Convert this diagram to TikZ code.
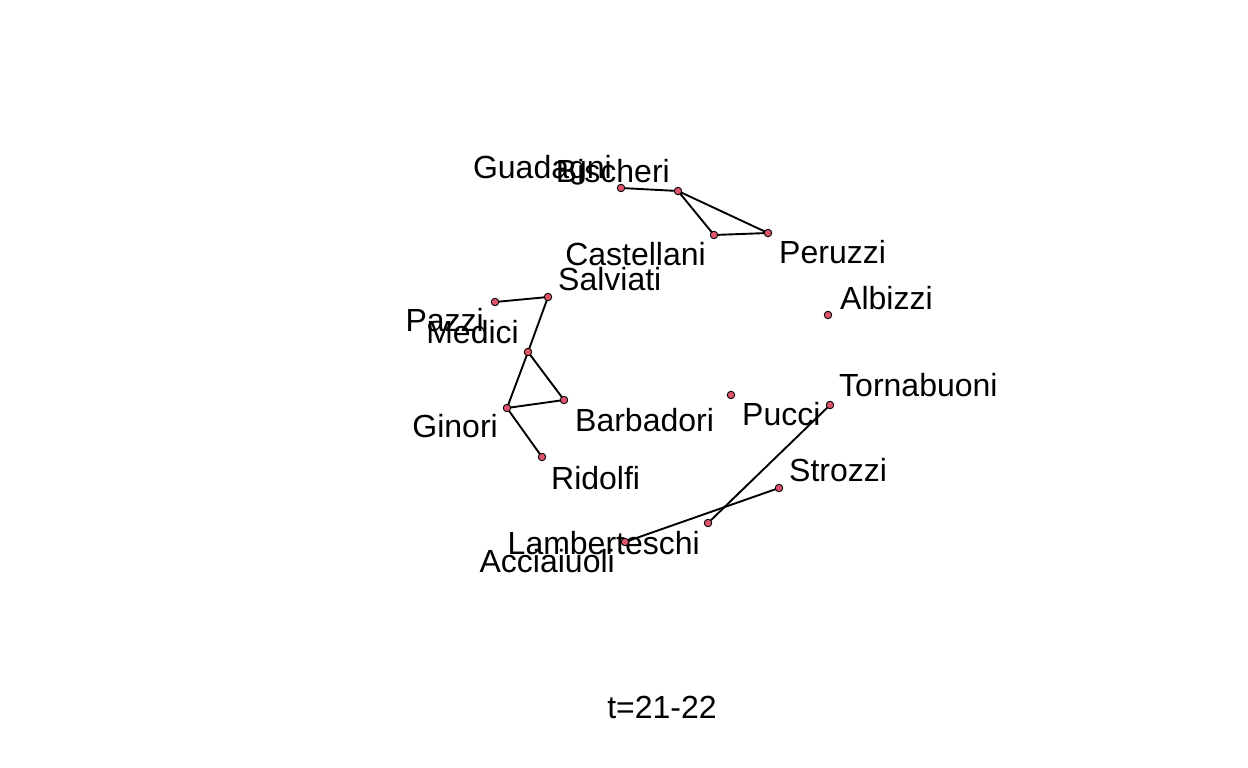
\documentclass[tikz,border=0pt]{standalone}
\usepackage{fontspec}
\setmainfont{Liberation Sans}
\begin{document}
\begin{tikzpicture}[x=1pt,y=-1pt,
  vert/.style={circle,draw=black,line width=0.9pt,fill=dotred,minimum size=7.5pt,inner sep=0pt},
  edge/.style={draw=black,line width=1.9pt},
  lab/.style={inner sep=0pt,font=\fontsize{32}{37}\selectfont}]
\definecolor{dotred}{HTML}{DF536B}
\useasboundingbox (0,0) rectangle (1248,768);
% vertex positions
\coordinate (Guadagni) at (621,188);
\coordinate (Bischeri) at (678,191);
\coordinate (Castellani) at (714,235);
\coordinate (Peruzzi) at (768,233);
\coordinate (Salviati) at (548,297);
\coordinate (Pazzi) at (495,302);
\coordinate (Medici) at (528,352);
\coordinate (Barbadori) at (564,400);
\coordinate (Ginori) at (507,408);
\coordinate (Ridolfi) at (542,457);
\coordinate (Pucci) at (731,395);
\coordinate (Albizzi) at (828,315);
\coordinate (Tornabuoni) at (830,405);
\coordinate (Strozzi) at (779,488);
\coordinate (Lamberteschi) at (708,523);
\coordinate (Acciaiuoli) at (625,542);
% labels
\node[lab,anchor=base east] (lGuadagni) at (612,178) {Guadagni};
\node[lab,anchor=base east] (lBischeri) at (670,182) {Bischeri};
\node[lab,anchor=base east] (lCastellani) at (706,265) {Castellani};
\node[lab,anchor=base west] (lPeruzzi) at (779,263) {Peruzzi};
\node[lab,anchor=base west] (lSalviati) at (558,290) {Salviati};
\node[lab,anchor=base east] (lPazzi) at (484,331) {Pazzi};
\node[lab,anchor=base east] (lMedici) at (519,343) {Medici};
\node[lab,anchor=base east] (lGinori) at (498,437) {Ginori};
\node[lab,anchor=base west] (lBarbadori) at (575,431) {Barbadori};
\node[lab,anchor=base west] (lRidolfi) at (551,489) {Ridolfi};
\node[lab,anchor=base west] (lPucci) at (742,425) {Pucci};
\node[lab,anchor=base west] (lTornabuoni) at (839,396) {Tornabuoni};
\node[lab,anchor=base west] (lAlbizzi) at (840,309) {Albizzi};
\node[lab,anchor=base west] (lStrozzi) at (789,481) {Strozzi};
\node[lab,anchor=base east] (lLamberteschi) at (700,554) {Lamberteschi};
\node[lab,anchor=base east] (lAcciaiuoli) at (615,572) {Acciaiuoli};
\node[lab,anchor=base] (title) at (662,718) {t=21-22};
% edges
\draw[edge] (Guadagni) -- (Bischeri);
\draw[edge] (Bischeri) -- (Peruzzi);
\draw[edge] (Bischeri) -- (Castellani);
\draw[edge] (Castellani) -- (Peruzzi);
\draw[edge] (Pazzi) -- (Salviati);
\draw[edge] (Salviati) -- (Medici);
\draw[edge] (Medici) -- (Barbadori);
\draw[edge] (Medici) -- (Ginori);
\draw[edge] (Ginori) -- (Barbadori);
\draw[edge] (Ginori) -- (Ridolfi);
\draw[edge] (Tornabuoni) -- (Lamberteschi);
\draw[edge] (Strozzi) -- (Acciaiuoli);
% vertices on top
\foreach \v in {Guadagni,Bischeri,Castellani,Peruzzi,Salviati,Pazzi,Medici,Barbadori,Ginori,Ridolfi,Pucci,Albizzi,Tornabuoni,Strozzi,Lamberteschi,Acciaiuoli}
  \node[vert] (d\v) at (\v) {};
\end{tikzpicture}
\end{document}
